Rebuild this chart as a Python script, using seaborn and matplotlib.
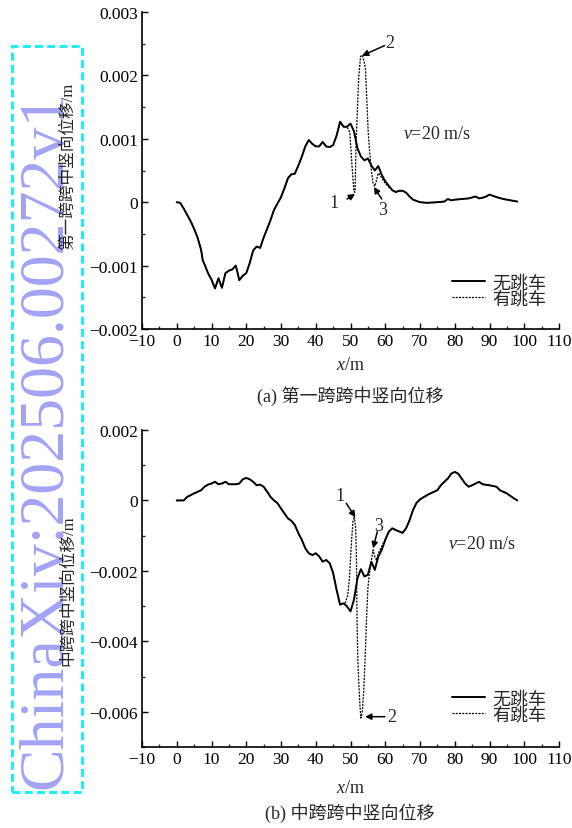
import numpy as np
import pandas as pd
import matplotlib
matplotlib.use("Agg")
import matplotlib.pyplot as plt
import matplotlib.patches as mpatches
from matplotlib.ticker import MultipleLocator, FixedLocator, FixedFormatter
import seaborn as sns

# ---------------- data ----------------
# (a) first span mid-span vertical displacement, no vehicle jump
top_x = [0, 1, 2, 3, 4, 5, 6, 7, 7.5, 8, 9, 10, 11, 12, 13, 14, 15, 16, 17, 18, 19, 20,
         21, 22, 23, 24, 25, 26, 27, 28, 29, 30, 31, 32, 33, 34, 35, 36, 37, 38, 39, 40,
         41, 42, 43, 44, 45, 46, 47, 48, 49, 50, 51, 52, 53, 54, 55, 56, 57, 58, 59, 60,
         61, 62, 63, 64, 65, 66, 67, 68, 70, 72, 75, 77, 78, 79, 80, 82, 84, 86, 87, 88,
         89, 90, 91, 92, 94, 96, 98]
top_base = [0.0, -0.00001, -0.00010, -0.00020, -0.00030, -0.00042, -0.00056, -0.00075,
            -0.00092, -0.00098, -0.00112, -0.00122, -0.00136, -0.00120, -0.00135, -0.00112,
            -0.00108, -0.00106, -0.00100, -0.00123, -0.00116, -0.00112, -0.00096, -0.00076,
            -0.00070, -0.00072, -0.00056, -0.00042, -0.00028, -0.00012, -0.00002, 0.00008,
            0.00022, 0.00038, 0.00044, 0.00045, 0.00058, 0.00072, 0.00088, 0.00098, 0.00092,
            0.00088, 0.00088, 0.00095, 0.00088, 0.00087, 0.00090, 0.00105, 0.00127, 0.00119,
            0.00119, 0.00124, 0.00112, 0.00085, 0.00072, 0.00066, 0.00069, 0.00058, 0.00050,
            0.00057, 0.00043, 0.00033, 0.00026, 0.00019, 0.00016, 0.00018, 0.00018, 0.00015,
            0.00009, 0.00004, 0.00000, -0.00001, 0.00000, 0.00001, 0.00005, 0.00003, 0.00004,
            0.00005, 0.00006, 0.00009, 0.00006, 0.00007, 0.00009, 0.00012, 0.00010, 0.00008,
            0.00005, 0.00003, 0.00001]
# (a) with vehicle jump: section where it departs from the no-jump curve
top_jump_x = [49.0, 49.8, 50.4, 51.0, 51.3, 51.6, 52.0, 52.4, 52.9, 53.4, 53.9, 54.3,
              54.7, 55.1, 55.5, 56.0, 56.5, 57.0, 57.5, 58.0, 58.5, 59.0, 60.0, 61.0, 62.0]
top_jump_v = [0.00119, 0.00110, 0.00060, 0.00016, 0.00016, 0.00090, 0.00150, 0.00200,
              0.00230, 0.00232, 0.00222, 0.00210, 0.00160, 0.00110, 0.00080, 0.00050,
              0.00030, 0.00025, 0.00035, 0.00046, 0.00043, 0.00038, 0.00030, 0.00024, 0.00019]

# (b) middle span mid-span vertical displacement, no vehicle jump
bot_x = [0, 2, 3, 5, 7, 8, 9, 10, 11, 12, 13, 14, 15, 17, 18, 19, 20, 21, 22, 23, 24, 25,
         26, 27, 28, 29, 30, 31, 32, 33, 34, 35, 36, 37, 38, 39, 40, 41, 42, 43, 44, 45,
         46, 47, 48, 49, 50, 51, 52, 53, 54, 55, 56, 57, 58, 59, 60, 61, 62, 63, 65, 66,
         67, 68, 69, 70, 72, 73, 75, 76, 77, 78, 79, 80, 81, 82, 83, 84, 85, 86, 87, 88,
         90, 92, 93, 95, 97, 98]
bot_base = [0.0, 0.0, 0.00010, 0.00020, 0.00029, 0.00039, 0.00045, 0.00048, 0.00053,
            0.00046, 0.00048, 0.00053, 0.00046, 0.00046, 0.00048, 0.00060, 0.00064, 0.00060,
            0.00053, 0.00043, 0.00045, 0.00039, 0.00025, 0.00010, 0.00000, -0.00008,
            -0.00023, -0.00037, -0.00051, -0.00058, -0.00070, -0.00093, -0.00112, -0.00136,
            -0.00150, -0.00155, -0.00150, -0.00159, -0.00174, -0.00169, -0.00178, -0.00206,
            -0.00254, -0.00296, -0.00292, -0.00301, -0.00315, -0.00282, -0.00221, -0.00195,
            -0.00216, -0.00211, -0.00174, -0.00197, -0.00159, -0.00140, -0.00112, -0.00089,
            -0.00079, -0.00084, -0.00092, -0.00079, -0.00056, -0.00027, -0.00007, 0.00003,
            0.00015, 0.00020, 0.00029, 0.00043, 0.00053, 0.00062, 0.00076, 0.00081, 0.00076,
            0.00062, 0.00048, 0.00039, 0.00043, 0.00048, 0.00053, 0.00046, 0.00043, 0.00039,
            0.00029, 0.00020, 0.00006, 0.00000]
# (b) with vehicle jump
bot_jump_x = [48.5, 49.2, 49.7, 50.2, 50.7, 51.1, 51.5, 51.7, 51.9, 52.1, 52.4, 52.7, 53.0,
              53.4, 53.8, 54.2, 54.6, 55.0, 55.4, 56.0, 56.5, 57.0, 57.5, 58.0, 59.0, 60.0,
              61.0, 62.0]
bot_jump_v = [-0.00290, -0.00270, -0.00220, -0.00130, -0.00060, -0.00045, -0.00080,
              -0.00160, -0.00350, -0.00450, -0.00520, -0.00580, -0.00618, -0.00600,
              -0.00540, -0.00450, -0.00340, -0.00250, -0.00210, -0.00170, -0.00140,
              -0.00160, -0.00170, -0.00150, -0.00130, -0.00110, -0.00090, -0.00079]

series_labels = ["无跳车", "有跳车"]
x_ticks = [-10, 0, 10, 20, 30, 40, 50, 60, 70, 80, 90, 100, 110]
x_tick_labels = ["\u221210", "0", "10", "20", "30", "40", "50", "60", "70", "80", "90", "100", "110"]
top_y_ticks = [-0.002, -0.001, 0.0, 0.001, 0.002, 0.003]
top_y_tick_labels = ["\u22120.002", "\u22120.001", "0", "0.001", "0.002", "0.003"]
bot_y_ticks = [-0.006, -0.004, -0.002, 0.0, 0.002]
bot_y_tick_labels = ["\u22120.006", "\u22120.004", "\u22120.002", "0", "0.002"]
captions = ["(a) 第一跨跨中竖向位移", "(b) 中跨跨中竖向位移"]
ylabels = ["第一跨跨中竖向位移/m", "中跨跨中竖向位移/m"]
speed_text = r"$\mathit{v}$=20 m/s"
watermark = "ChinaXiv:202506.00272v1"

# ---------------- style ----------------
sns.set_theme(style="ticks")
plt.rcParams["font.family"] = ["Liberation Serif", "Noto Sans CJK SC"]
plt.rcParams["mathtext.fontset"] = "custom"
plt.rcParams["mathtext.it"] = "Liberation Serif:italic"
plt.rcParams["mathtext.rm"] = "Liberation Serif"
plt.rcParams["axes.unicode_minus"] = True

W, H = 572, 829
fig = plt.figure(figsize=(W / 100, H / 100), dpi=100)


def fx(px):
    return px / W


def fy(py):
    return 1 - py / H


def build_jump(bx, bv, jx, jv):
    bx = np.asarray(bx, float)
    bv = np.asarray(bv, float)
    lo = bx < jx[0]
    hi = bx > jx[-1]
    return (np.concatenate([bx[lo], jx, bx[hi]]),
            np.concatenate([bv[lo], jv, bv[hi]]))


def panel(ax, bx, bv, jx, jv, ylim, yticks, yticklabels, yminor):
    df_base = pd.DataFrame({"x": bx, "v": bv})
    jxx, jvv = build_jump(bx, bv, jx, jv)
    df_jump = pd.DataFrame({"x": jxx, "v": jvv})
    sns.lineplot(data=df_base, x="x", y="v", ax=ax, color="black", lw=1.4,
                 estimator=None, sort=False, label=series_labels[0])
    sns.lineplot(data=df_jump, x="x", y="v", ax=ax, color="black", lw=0.9,
                 estimator=None, sort=False, label=series_labels[1],
                 dashes=False, linestyle=(0, (1.6, 1.0)))
    ax.set_xlim(-10, 110)
    ax.set_ylim(*ylim)
    ax.xaxis.set_major_locator(FixedLocator(x_ticks))
    ax.xaxis.set_major_formatter(FixedFormatter(x_tick_labels))
    ax.xaxis.set_minor_locator(MultipleLocator(5))
    ax.yaxis.set_major_locator(FixedLocator(yticks))
    ax.yaxis.set_major_formatter(FixedFormatter(yticklabels))
    ax.yaxis.set_minor_locator(MultipleLocator(yminor))
    ax.tick_params(which="major", direction="in", length=4.5, width=1.0,
                   labelsize=12.5, pad=3, colors="black")
    ax.tick_params(which="minor", direction="in", length=2.5, width=1.0)
    for s in ["left", "bottom"]:
        ax.spines[s].set_linewidth(1.2)
        ax.spines[s].set_color("black")
    sns.despine(ax=ax)
    ax.set_xlabel("")
    ax.set_ylabel("")
    ax.grid(False)


# axes positions (pixels measured on reference)
ax1 = fig.add_axes([fx(142), fy(330), fx(559) - fx(142), fy(13) - fy(330)])
ax2 = fig.add_axes([fx(142), fy(748), fx(559) - fx(142), fy(431) - fy(748)])

panel(ax1, top_x, top_base, top_jump_x, top_jump_v, (-0.002, 0.003),
      top_y_ticks, top_y_tick_labels, 0.0005)
panel(ax2, bot_x, bot_base, bot_jump_x, bot_jump_v, (-0.007, 0.002),
      bot_y_ticks, bot_y_tick_labels, 0.001)

for ax, lb in [(ax1, 0.068), (ax2, 0.075)]:
    leg = ax.legend(loc="lower right", bbox_to_anchor=(0.97, lb), frameon=False,
                    fontsize=13, handlelength=1.85, handletextpad=0.4,
                    labelspacing=-0.05, borderpad=0, borderaxespad=0)

# speed annotation
ax1.text(65.1, 0.00109, speed_text, fontsize=13, va="center", ha="left")
ax2.text(78.0, -0.00121, speed_text, fontsize=13, va="center", ha="left")

arrow = dict(arrowstyle="-|>", color="black", lw=1.1, mutation_scale=9,
             shrinkA=0, shrinkB=0)
# top annotations
ax1.annotate("", xy=(51.3, 0.00013), xytext=(49.0, 0.00005), arrowprops=arrow)
ax1.text(45.2, 0.00000, "1", fontsize=13, ha="center", va="center")
ax1.annotate("", xy=(53.3, 0.00231), xytext=(59.8, 0.00247), arrowprops=arrow)
ax1.text(61.3, 0.00252, "2", fontsize=13, ha="center", va="center")
ax1.annotate("", xy=(56.7, 0.00024), xytext=(59.0, 0.00005), arrowprops=arrow)
ax1.text(59.3, -0.00012, "3", fontsize=13, ha="center", va="center")
# bottom annotations
ax2.annotate("", xy=(51.4, -0.00048), xytext=(48.8, -0.00008), arrowprops=arrow)
ax2.text(47.1, 0.00015, "1", fontsize=13, ha="center", va="center")
ax2.annotate("", xy=(54.2, -0.00614), xytext=(59.9, -0.00614), arrowprops=arrow)
ax2.text(61.8, -0.00614, "2", fontsize=13, ha="center", va="center")
ax2.annotate("", xy=(56.5, -0.00136), xytext=(57.7, -0.00089), arrowprops=arrow)
ax2.text(58.2, -0.00070, "3", fontsize=13, ha="center", va="center")

# axis labels and captions
fig.text(fx(350), fy(366), r"$\mathit{x}$/m", fontsize=13, ha="center", va="center")
fig.text(fx(350), fy(396), captions[0], fontsize=13, ha="center", va="center")
fig.text(fx(350), fy(789), r"$\mathit{x}$/m", fontsize=13, ha="center", va="center")
fig.text(fx(350), fy(813), captions[1], fontsize=13, ha="center", va="center")
fig.text(fx(68), fy(166), ylabels[0], fontsize=12, rotation=90, ha="center", va="center")
fig.text(fx(68), fy(591), ylabels[1], fontsize=12, rotation=90, ha="center", va="center")

# watermark
fig.text(fx(46), fy(440), watermark, fontsize=46, rotation=90, ha="center", va="center",
         color="#a3a3f5", family="Liberation Serif", zorder=-5)
rect = mpatches.Rectangle((fx(12), fy(793)), fx(82) - fx(12), fy(47) - fy(793),
                          transform=fig.transFigure, fill=False, edgecolor="#22eef0",
                          lw=2.2, linestyle=(0, (2.6, 1.4)), zorder=-4)
fig.patches.append(rect)

fig.savefig("out.png", dpi=100)
